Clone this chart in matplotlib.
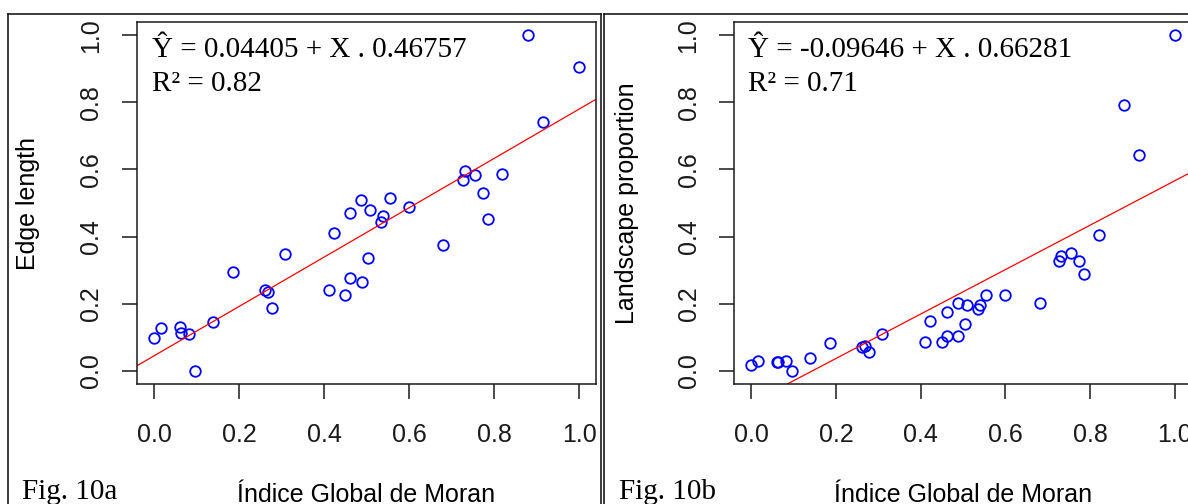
import matplotlib
matplotlib.use('Agg')
import matplotlib.pyplot as plt
from matplotlib.lines import Line2D

plt.rcParams['font.family'] = ['Liberation Sans', 'DejaVu Sans']

# Global Moran index (same x for both panels)
moran = [0.0, 0.016, 0.062, 0.063, 0.082, 0.096, 0.139, 0.185, 0.261, 0.269,
         0.278, 0.308, 0.411, 0.423, 0.450, 0.462, 0.462, 0.488, 0.489, 0.504,
         0.509, 0.535, 0.539, 0.555, 0.600, 0.681, 0.726, 0.731, 0.755, 0.774,
         0.786, 0.820, 0.881, 0.915, 1.0]

edge_length = [0.096, 0.126, 0.131, 0.112, 0.110, 0.0, 0.145, 0.295, 0.241, 0.235,
               0.187, 0.347, 0.241, 0.410, 0.225, 0.469, 0.275, 0.510, 0.265, 0.337,
               0.478, 0.443, 0.460, 0.516, 0.487, 0.376, 0.568, 0.594, 0.583, 0.530,
               0.453, 0.588, 1.0, 0.743, 0.907]

landscape_prop = [0.017, 0.028, 0.025, 0.025, 0.028, 0.0, 0.037, 0.081, 0.070, 0.073,
                  0.055, 0.109, 0.085, 0.147, 0.084, 0.176, 0.104, 0.201, 0.104, 0.139,
                  0.196, 0.184, 0.197, 0.226, 0.226, 0.202, 0.328, 0.343, 0.351, 0.328,
                  0.289, 0.405, 0.791, 0.642, 1.0]

# regression lines as drawn (intercept, slope)
fit_a = (0.044, 0.736)
fit_b = (-0.09646, 0.66281)

eq_a = ['Ŷ = 0.04405 + X . 0.46757', 'R² = 0.82']
eq_b = ['Ŷ = -0.09646 + X . 0.66281', 'R² = 0.71']

ticks = [0.0, 0.2, 0.4, 0.6, 0.8, 1.0]
tick_labels = ['0.0', '0.2', '0.4', '0.6', '0.8', '1.0']
xlab = 'Índice Global de Moran'

W, H = 1188, 504
fig = plt.figure(figsize=(W / 100, H / 100), dpi=100)


def fx(x):
    return x / W


def fy(y):
    return 1 - y / H


def panel(left, width, yvals, fit, ylab, ylab_x, eq, eq_x, figlab, figlab_x):
    ax = fig.add_axes([fx(left), fy(384), width / W, 362 / H])
    ax.plot(moran, yvals, 'o', mfc='none', mec='#0000ff', ms=7.6, mew=1.3)
    ax.axline((0, fit[0]), slope=fit[1], color='#ff0000', lw=0.9)
    ax.set_xlim(-0.04, 1.04)
    ax.set_ylim(-0.04, 1.04)
    ax.set_xticks(ticks)
    ax.set_xticklabels(tick_labels)
    ax.set_yticks(ticks)
    ax.set_yticklabels(tick_labels, rotation=90, va='center')
    ax.tick_params(length=10.8, width=1.1, labelsize=18, colors='#1a1a1a')
    ax.tick_params(axis='x', pad=17)
    ax.tick_params(axis='y', pad=13.5)
    for s in ax.spines.values():
        s.set_linewidth(1.1)
        s.set_color('#1a1a1a')
    ax.set_ylabel(ylab, fontsize=18)
    ax.yaxis.set_label_coords(ylab_x, 0.5)
    ax.text(0.5, (384 - 502) / 362, xlab, transform=ax.transAxes,
            ha='center', va='baseline', fontsize=18)
    fig.text(fx(eq_x), fy(57), eq[0], family='Liberation Serif', fontsize=21, va='baseline')
    fig.text(fx(eq_x), fy(91), eq[1], family='Liberation Serif', fontsize=21, va='baseline')
    fig.text(fx(figlab_x), fy(499), figlab, family='Liberation Serif', fontsize=21, va='baseline')
    return ax


panel(137, 459, edge_length, fit_a, 'Edge length', -0.2113, eq_a, 152, 'Fig. 10a', 22)
panel(734.3, 457.4, landscape_prop, fit_b, 'Landscape proportion', -0.2073, eq_b, 748, 'Fig. 10b', 619)

# outer frames around each figure panel
frame = [((8, 8), (14, 504)), ((8, 601), (14, 14)), ((601, 601), (14, 504)),
         ((604, 604), (14, 504)), ((604, 1188), (14, 14))]
for xs, ys in frame:
    fig.add_artist(Line2D([fx(x) for x in xs], [fy(y) for y in ys], color='#1a1a1a', lw=1.2))

fig.savefig('out.png', dpi=100)
